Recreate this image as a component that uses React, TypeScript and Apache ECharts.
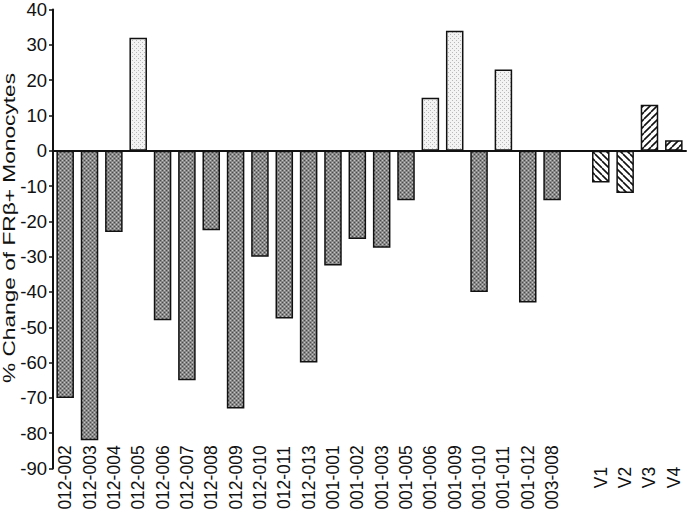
import React, { useEffect, useRef } from "react";
import * as echarts from "echarts";

const patientIds = [
  "012-002", "012-003", "012-004", "012-005", "012-006", "012-007", "012-008",
  "012-009", "012-010", "012-011", "012-013", "001-001", "001-002", "001-003",
  "001-005", "001-006", "001-009", "001-010", "001-011", "001-012", "003-008",
];
const patientValues = [
  -70, -82, -23, 32, -48, -65, -22.5, -73, -30, -47.5, -60, -32.5, -25, -27.5,
  -14, 15, 34, -40, 23, -43, -14,
];
const volunteerIds = ["V1", "V2", "V3", "V4"];
const volunteerValues = [-9, -12, 13, 3];
const yTicks = { min: -90, max: 40, interval: 10 };
const yTitle = "% Change of FRβ+ Monocytes";

const FONT = "'Liberation Sans', Arial, sans-serif";

function tile(size: number, draw: (ctx: CanvasRenderingContext2D, s: number) => void) {
  const c = document.createElement("canvas");
  c.width = size;
  c.height = size;
  const ctx = c.getContext("2d") as CanvasRenderingContext2D;
  draw(ctx, size);
  return { image: c.toDataURL(), repeat: "repeat", imageWidth: size, imageHeight: size } as any;
}

export default function App() {
  const ref = useRef<HTMLDivElement>(null);
  useEffect(() => {
    document.body.style.margin = "0";
    const dark = tile(4, (ctx, s) => {
      ctx.fillStyle = "#888888";
      ctx.fillRect(0, 0, s, s);
      ctx.fillStyle = "#4a4a4a";
      ctx.fillRect(0, 0, 1, 1);
      ctx.fillRect(2, 2, 1, 1);
      ctx.fillStyle = "#c4c4c4";
      ctx.fillRect(2, 0, 1, 1);
      ctx.fillRect(0, 2, 1, 1);
    });
    const light = tile(4, (ctx, s) => {
      ctx.fillStyle = "#f3f3f3";
      ctx.fillRect(0, 0, s, s);
      ctx.fillStyle = "#b8b8b8";
      ctx.fillRect(0, 0, 1, 1);
      ctx.fillRect(2, 2, 1, 1);
    });
    const hatch = (dir: number) =>
      tile(7, (ctx, s) => {
        ctx.fillStyle = "#ffffff";
        ctx.fillRect(0, 0, s, s);
        ctx.strokeStyle = "#111111";
        ctx.lineWidth = 1.6;
        ctx.beginPath();
        for (const o of [-s, 0, s]) {
          if (dir > 0) {
            ctx.moveTo(o, s);
            ctx.lineTo(o + s, 0);
          } else {
            ctx.moveTo(o, 0);
            ctx.lineTo(o + s, s);
          }
        }
        ctx.stroke();
      });

    const categories = [...patientIds, "", ...volunteerIds];
    const data: any[] = [];
    patientValues.forEach((v) =>
      data.push({ value: v, itemStyle: { color: v < 0 ? dark : light } })
    );
    data.push("-");
    volunteerValues.forEach((v) =>
      data.push({ value: v, itemStyle: { color: hatch(v < 0 ? -1 : 1) } })
    );

    const chart = echarts.init(ref.current!, null, { renderer: "svg" });
    chart.setOption({
      animation: false,
      grid: { left: 53, right: 4, top: 7, bottom: 45.5 },
      xAxis: [
        {
          type: "category",
          data: categories,
          z: 10,
          axisLine: { onZero: true, lineStyle: { color: "#111", width: 2 } },
          axisTick: { alignWithLabel: true, length: 4, lineStyle: { color: "#111", width: 1.5 } },
          axisLabel: { show: false },
        },
        {
          type: "category",
          data: categories,
          position: "bottom",
          axisLine: { show: false, onZero: false },
          axisTick: { show: false },
          axisLabel: {
            interval: 0,
            rotate: 90,
            align: "center",
            margin: 9,
            fontSize: 17.5,
            fontFamily: FONT,
            color: "#111",
          },
        },
      ],
      yAxis: {
        type: "value",
        min: yTicks.min,
        max: yTicks.max,
        interval: yTicks.interval,
        splitLine: { show: false },
        axisLine: { show: true, lineStyle: { color: "#111", width: 2 } },
        axisTick: { show: true, length: 4, lineStyle: { color: "#111", width: 1.5 } },
        axisLabel: {
          margin: 6,
          fontSize: 18.5,
          fontFamily: FONT,
          color: "#111",
        },
      },
      graphic: [
        {
          type: "text",
          x: 9,
          y: 228,
          rotation: Math.PI / 2,
          scaleX: 1.42,
          style: {
            text: yTitle,
            fontSize: 16,
            fontFamily: FONT,
            fill: "#111",
            align: "center",
            verticalAlign: "middle",
          },
        },
      ],
      series: [
        {
          type: "bar",
          xAxisIndex: 0,
          barWidth: "72%",
          data,
          itemStyle: { borderColor: "#111", borderWidth: 1.5 },
        },
      ],
    });
    return () => chart.dispose();
  }, []);
  return <div ref={ref} style={{ width: 690, height: 514 }} />;
}
